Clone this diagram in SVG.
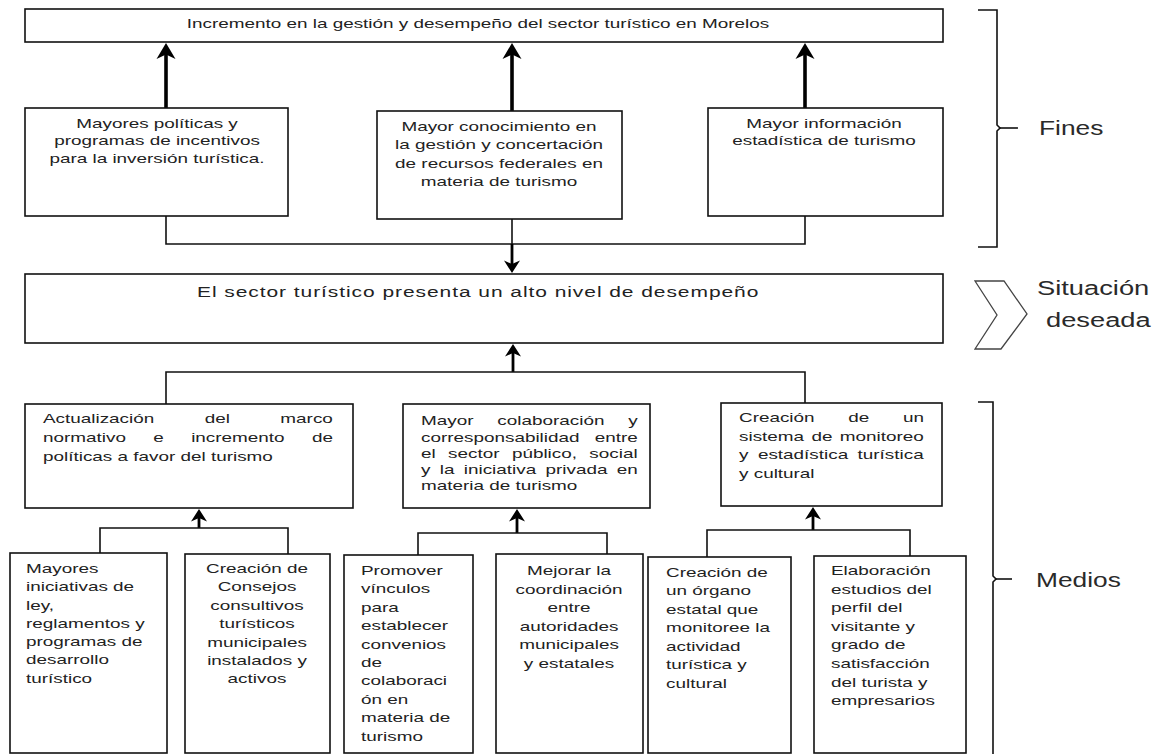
<svg xmlns="http://www.w3.org/2000/svg" width="1163" height="754" viewBox="0 0 1163 754">
<style>
.bx{fill:#fff;stroke:#111;stroke-width:1.6}
.ln{fill:none;stroke:#111;stroke-width:1.6}
.ar{fill:none;stroke:#000;stroke-width:3.6}
.ar2{fill:none;stroke:#000;stroke-width:2.8}
text{font-family:"Liberation Sans",Arial,sans-serif;fill:#222}
.t{font-size:13.5px}
.c{text-anchor:middle}
.lb{font-size:19.5px;fill:#2a2a2a}
</style>
<defs>
<marker id="ah" markerUnits="userSpaceOnUse" markerWidth="26" markerHeight="26" viewBox="-13 -13 26 26" refX="0" refY="0" orient="auto">
<path d="M9,0 L-7,-9.5 L-2.5,0 L-7,9.5 Z" fill="#000"/>
</marker>
<marker id="ah2" markerUnits="userSpaceOnUse" markerWidth="20" markerHeight="20" viewBox="-10 -10 20 20" refX="0" refY="0" orient="auto">
<path d="M7,0 L-5.5,-8 L-2,0 L-5.5,8 Z" fill="#000"/>
</marker>
</defs>

<g id="connectors">
<line class="ar" x1="166" y1="108" x2="166" y2="52" marker-end="url(#ah)"/>
<line class="ar" x1="512" y1="111" x2="512" y2="52" marker-end="url(#ah)"/>
<line class="ar" x1="805" y1="108" x2="805" y2="52" marker-end="url(#ah)"/>
<polyline class="ln" points="166,216 166,244 805,244 805,216"/>
<line class="ln" x1="512" y1="219" x2="512" y2="244"/>
<line class="ar2" x1="512" y1="244" x2="512" y2="266" marker-end="url(#ah2)"/>
<line class="ar2" x1="513" y1="372" x2="513" y2="351" marker-end="url(#ah2)"/>
<polyline class="ln" points="166,404 166,372 805,372 805,403"/>
<line class="ar2" x1="199" y1="528" x2="199" y2="516" marker-end="url(#ah2)"/>
<polyline class="ln" points="100,553 100,528 288,528 288,554"/>
<line class="ar2" x1="517" y1="533" x2="517" y2="516" marker-end="url(#ah2)"/>
<polyline class="ln" points="418,555 418,533 607,533 607,554"/>
<line class="ar2" x1="813" y1="530" x2="813" y2="514" marker-end="url(#ah2)"/>
<polyline class="ln" points="707,557 707,530 910,530 910,556"/>
</g>

<g id="fin-top">
<rect class="bx" x="25" y="9" width="918" height="33"/>
<text class="t c" transform="translate(478,28) scale(1.4 1)">Incremento en la gestión y desempeño del sector turístico en Morelos</text>
</g>

<g id="fin-1">
<rect class="bx" x="25" y="108" width="263" height="108"/>
<text class="t c" transform="translate(157,0) scale(1.4 1)"><tspan x="0" y="128">Mayores políticas y</tspan><tspan x="0" y="145.5">programas de incentivos</tspan><tspan x="0" y="163">para la inversión turística.</tspan></text>
</g>

<g id="fin-2">
<rect class="bx" x="377" y="111" width="245" height="108"/>
<text class="t c" transform="translate(499,0) scale(1.4 1)"><tspan x="0" y="131">Mayor conocimiento en</tspan><tspan x="0" y="149.5">la gestión y concertación</tspan><tspan x="0" y="168">de recursos federales en</tspan><tspan x="0" y="186.5">materia de turismo</tspan></text>
</g>

<g id="fin-3">
<rect class="bx" x="708" y="108" width="235" height="108"/>
<text class="t c" transform="translate(824,0) scale(1.4 1)"><tspan x="0" y="128">Mayor información</tspan><tspan x="0" y="145.5">estadística de turismo</tspan></text>
</g>

<g id="situacion">
<rect class="bx" x="25" y="274" width="918" height="69"/>
<text transform="translate(197,297) scale(1.4 1)" style="font-size:15px" textLength="401" lengthAdjust="spacing">El sector turístico presenta un alto nivel de desempeño</text>
</g>

<g id="medio-1">
<rect class="bx" x="25" y="404" width="328" height="104"/>
<text class="t" transform="translate(43,423) scale(1.4 1)" style="word-spacing:32.3px">Actualización del marco</text>
<text class="t" transform="translate(43,442) scale(1.4 1)" style="word-spacing:15.8px">normativo e incremento de</text>
<text class="t" transform="translate(43,461) scale(1.4 1)">políticas a favor del turismo</text>
</g>

<g id="medio-2">
<rect class="bx" x="403" y="404" width="247" height="104"/>
<text class="t" transform="translate(421,425) scale(1.4 1)" style="word-spacing:13.3px">Mayor colaboración y</text>
<text class="t" transform="translate(421,441.5) scale(1.4 1)" style="word-spacing:7.2px">corresponsabilidad entre</text>
<text class="t" transform="translate(421,457.5) scale(1.4 1)" style="word-spacing:5.1px">el sector público, social</text>
<text class="t" transform="translate(421,473.5) scale(1.4 1)" style="word-spacing:2.9px">y la iniciativa privada en</text>
<text class="t" transform="translate(421,489.5) scale(1.4 1)">materia de turismo</text>
</g>

<g id="medio-3">
<rect class="bx" x="721" y="403" width="221" height="103"/>
<text class="t" transform="translate(739,422) scale(1.4 1)" style="word-spacing:20.3px">Creación de un</text>
<text class="t" transform="translate(739,440.5) scale(1.4 1)" style="word-spacing:1.5px">sistema de monitoreo</text>
<text class="t" transform="translate(739,459) scale(1.4 1)" style="word-spacing:3px">y estadística turística</text>
<text class="t" transform="translate(739,477.5) scale(1.4 1)">y cultural</text>
</g>

<g id="accion-1">
<rect class="bx" x="10" y="553" width="157" height="200"/>
<text class="t" transform="translate(26,0) scale(1.4 1)"><tspan x="0" y="573">Mayores</tspan><tspan x="0" y="591.3">iniciativas de</tspan><tspan x="0" y="609.6">ley,</tspan><tspan x="0" y="627.9">reglamentos y</tspan><tspan x="0" y="646.2">programas de</tspan><tspan x="0" y="664.5">desarrollo</tspan><tspan x="0" y="682.8">turístico</tspan></text>
</g>

<g id="accion-2">
<rect class="bx" x="185" y="554" width="145" height="199"/>
<text class="t c" transform="translate(257,0) scale(1.4 1)"><tspan x="0" y="573">Creación de</tspan><tspan x="0" y="591.4">Consejos</tspan><tspan x="0" y="609.8">consultivos</tspan><tspan x="0" y="628.2">turísticos</tspan><tspan x="0" y="646.6">municipales</tspan><tspan x="0" y="665">instalados y</tspan><tspan x="0" y="683.4">activos</tspan></text>
</g>

<g id="accion-3">
<rect class="bx" x="344" y="555" width="129" height="198"/>
<text class="t" transform="translate(361,0) scale(1.4 1)"><tspan x="0" y="575">Promover</tspan><tspan x="0" y="593.4">vínculos</tspan><tspan x="0" y="611.8">para</tspan><tspan x="0" y="630.2">establecer</tspan><tspan x="0" y="648.6">convenios</tspan><tspan x="0" y="667">de</tspan><tspan x="0" y="685.4">colaboraci</tspan><tspan x="0" y="703.8">ón en</tspan><tspan x="0" y="722.2">materia de</tspan><tspan x="0" y="740.6">turismo</tspan></text>
</g>

<g id="accion-4">
<rect class="bx" x="496" y="554" width="147" height="199"/>
<text class="t c" transform="translate(569,0) scale(1.4 1)"><tspan x="0" y="575">Mejorar la</tspan><tspan x="0" y="593.6">coordinación</tspan><tspan x="0" y="612.2">entre</tspan><tspan x="0" y="630.8">autoridades</tspan><tspan x="0" y="649.4">municipales</tspan><tspan x="0" y="668">y estatales</tspan></text>
</g>

<g id="accion-5">
<rect class="bx" x="648" y="557" width="143" height="196"/>
<text class="t" transform="translate(666,0) scale(1.4 1)"><tspan x="0" y="577">Creación de</tspan><tspan x="0" y="595.5">un órgano</tspan><tspan x="0" y="614">estatal que</tspan><tspan x="0" y="632.5">monitoree la</tspan><tspan x="0" y="651">actividad</tspan><tspan x="0" y="669.5">turística y</tspan><tspan x="0" y="688">cultural</tspan></text>
</g>

<g id="accion-6">
<rect class="bx" x="814" y="556" width="152" height="197"/>
<text class="t" transform="translate(831,0) scale(1.4 1)"><tspan x="0" y="575">Elaboración</tspan><tspan x="0" y="593.6">estudios del</tspan><tspan x="0" y="612.2">perfil del</tspan><tspan x="0" y="630.8">visitante y</tspan><tspan x="0" y="649.4">grado de</tspan><tspan x="0" y="668">satisfacción</tspan><tspan x="0" y="686.6">del turista y</tspan><tspan x="0" y="705.2">empresarios</tspan></text>
</g>

<g id="fines-brace">
<path class="ln" d="M978,10 H997 V125 L1000,128 L997,131 V247 H978"/>
<line class="ln" x1="1000" y1="128" x2="1018" y2="128"/>
<text class="lb" transform="translate(1039,135) scale(1.35 1)">Fines</text>
</g>

<g id="situacion-label">
<polygon points="975,281 1004,281 1027,314 1001,349 975,349 997,315" fill="#fff" stroke="#444" stroke-width="1.3"/>
<text class="lb" transform="translate(1037,295) scale(1.4 1)">Situación</text>
<text class="lb" transform="translate(1046,327) scale(1.4 1)">deseada</text>
</g>

<g id="medios-brace">
<path class="ln" d="M978,402 H993 V576 L996,579 L993,582 V754"/>
<line class="ln" x1="996" y1="579" x2="1012" y2="579"/>
<text class="lb" transform="translate(1036,587) scale(1.35 1)">Medios</text>
</g>
</svg>
